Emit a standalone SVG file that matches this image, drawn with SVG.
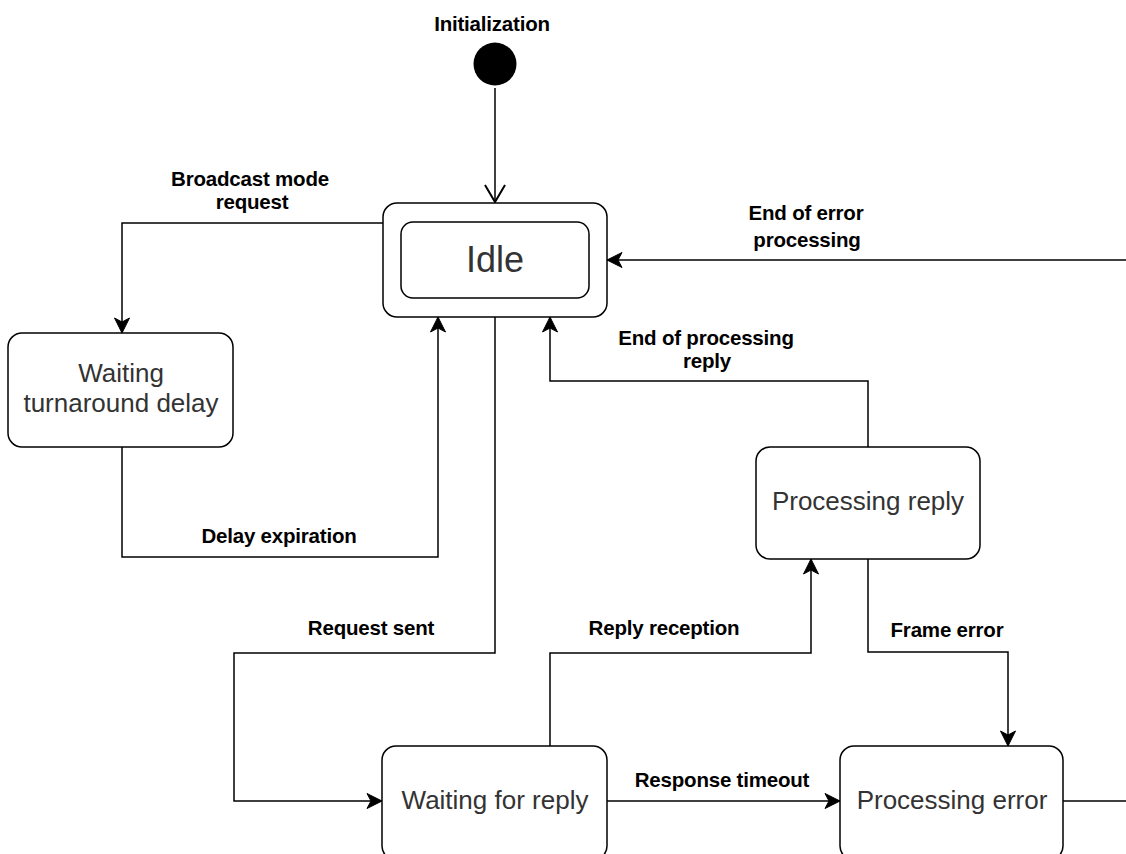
<svg xmlns="http://www.w3.org/2000/svg" width="1126" height="854" viewBox="0 0 1126 854">
  <style>
    .node { fill: #ffffff; stroke: #000000; stroke-width: 1.5; }
    .ntext { font-family: "Liberation Sans", Arial, sans-serif; font-size: 26px; fill: #333333; text-anchor: middle; }
    .lbl { font-family: "Liberation Sans", Arial, sans-serif; font-size: 20.5px; font-weight: bold; fill: #000000; text-anchor: middle; letter-spacing: -0.2px; }
    .edge { fill: none; stroke: #000000; stroke-width: 1.5; }
  </style>
  <defs>
    <marker id="block" markerUnits="userSpaceOnUse" markerWidth="20" markerHeight="20" viewBox="-16 -10 20 20" refX="0" refY="0" orient="auto">
      <path d="M0,0 L-15,-7.5 L-11,0 L-15,7.5 Z" fill="#000000" stroke="#000000" stroke-width="1"/>
    </marker>
    <marker id="open" markerUnits="userSpaceOnUse" markerWidth="24" markerHeight="24" viewBox="-20 -12 24 24" refX="0" refY="0" orient="auto">
      <path d="M-17,-10 L0,0 L-17,10" fill="none" stroke="#000000" stroke-width="2"/>
    </marker>
  </defs>

  <g id="connectors">
    <path class="edge" d="M495,88 L495,202" marker-end="url(#open)"/>
    <path class="edge" d="M383,223 L122,223 L122,333" marker-end="url(#block)"/>
    <path class="edge" d="M122,447 L122,557 L438,557 L438,317" marker-end="url(#block)"/>
    <path class="edge" d="M495,317 L495,653 L234,653 L234,801 L382,801" marker-end="url(#block)"/>
    <path class="edge" d="M550,746 L550,653 L811,653 L811,559" marker-end="url(#block)"/>
    <path class="edge" d="M868,447 L868,381 L550,381 L550,317" marker-end="url(#block)"/>
    <path class="edge" d="M868,559 L868,652 L1008,652 L1008,746" marker-end="url(#block)"/>
    <path class="edge" d="M607,801 L840,801" marker-end="url(#block)"/>
    <path class="edge" d="M1063,801 L1126,801"/>
    <path class="edge" d="M1126,260 L607,260" marker-end="url(#block)"/>
    <text class="lbl" x="492" y="31">Initialization</text>
    <text class="lbl" x="250" y="186">Broadcast mode</text>
    <text class="lbl" x="252" y="209">request</text>
    <text class="lbl" x="279" y="543">Delay expiration</text>
    <text class="lbl" x="371" y="635">Request sent</text>
    <text class="lbl" x="664" y="635">Reply reception</text>
    <text class="lbl" x="947" y="637">Frame error</text>
    <text class="lbl" x="722" y="787">Response timeout</text>
    <text class="lbl" x="806" y="220">End of error</text>
    <text class="lbl" x="807" y="247">processing</text>
    <text class="lbl" x="706" y="345">End of processing</text>
    <text class="lbl" x="707" y="368">reply</text>
  </g>

  <g id="initial">
    <circle cx="495" cy="64" r="21.5" fill="#000000"/>
  </g>

  <g id="idle">
    <rect class="node" x="383" y="203" width="224" height="114" rx="14" ry="14"/>
    <rect class="node" x="401" y="222" width="188" height="76" rx="12" ry="12"/>
    <text class="ntext" x="495" y="272" style="font-size:36px">Idle</text>
  </g>

  <g id="waiting-turnaround">
    <rect class="node" x="8" y="333" width="225" height="114" rx="14" ry="14"/>
    <text class="ntext" x="121" y="382">Waiting</text>
    <text class="ntext" x="121" y="412">turnaround delay</text>
  </g>

  <g id="processing-reply">
    <rect class="node" x="756" y="447" width="224" height="112" rx="14" ry="14"/>
    <text class="ntext" x="868" y="510">Processing reply</text>
  </g>

  <g id="waiting-reply">
    <rect class="node" x="382" y="746" width="225" height="114" rx="14" ry="14"/>
    <text class="ntext" x="495" y="809">Waiting for reply</text>
  </g>

  <g id="processing-error">
    <rect class="node" x="840" y="746" width="223" height="114" rx="14" ry="14"/>
    <text class="ntext" x="952" y="809">Processing error</text>
  </g>
</svg>
